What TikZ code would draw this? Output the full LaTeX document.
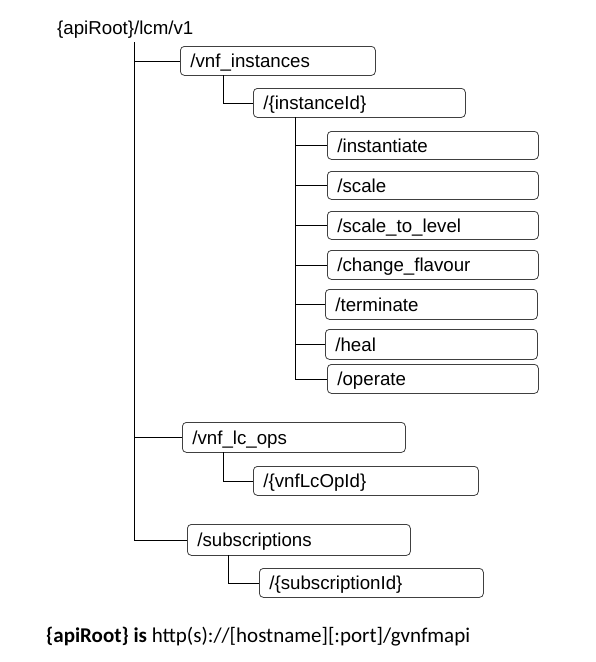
\documentclass[tikz,border=0pt]{standalone}
\usepackage{fontspec}
\setmainfont{Liberation Sans}
\newfontfamily\calfont{Carlito}
\begin{document}
\begin{tikzpicture}[x=1pt,y=-1pt,
  bx/.style={draw=black!75, line width=0.8pt, rounded corners=4pt, inner xsep=10pt, inner ysep=0pt, align=left, anchor=north west, text height=14pt, text depth=0pt, font=\fontsize{18.7}{22}\selectfont},
  ln/.style={draw=black, line width=0.8pt}]
\useasboundingbox[fill=white] (0,0) rectangle (596,662);
\newcommand\rbox[6]{%
  \pgfmathsetmacro\bw{#4-#2-20}\pgfmathsetmacro\bh{#5-#3}%
  \node[bx, text width=\bw pt, minimum height=\bh pt] (#1) at (#2,#3) {#6};}
\node[anchor=west, inner sep=0pt, font=\fontsize{18.7}{22}\selectfont] (root) at (57,29.5) {\{apiRoot\}/lcm/v1};
\rbox{vi}{180}{46}{375}{75}{/vnf\_instances}
\rbox{iid}{253}{88}{465}{117}{/\{instanceId\}}
\rbox{inst}{327}{131}{538}{159}{/instantiate}
\rbox{scale}{327}{171}{538}{199}{/scale}
\rbox{stl}{327}{211}{538}{239}{/scale\_to\_level}
\rbox{cf}{327}{250}{538}{279}{/change\_flavour}
\rbox{term}{325}{289}{537}{319}{/terminate}
\rbox{heal}{325}{329}{537}{359}{/heal}
\rbox{op}{327}{364}{538}{393}{/operate}
\rbox{lc}{182}{422}{405}{452}{/vnf\_lc\_ops}
\rbox{lcid}{253}{466}{478}{495}{/\{vnfLcOpId\}}
\rbox{sub}{187}{524}{410}{555}{/subscriptions}
\rbox{subid}{259}{568}{483}{597}{/\{subscriptionId\}}
\coordinate (t0) at (134,42);
\draw[ln] (t0) |- (sub.west);
\draw[ln] (t0 |- vi.west) -- (vi.west);
\draw[ln] (t0 |- lc.west) -- (lc.west);
\coordinate (a1) at (223,75);
\draw[ln] (a1) |- (iid.west);
\coordinate (a2) at (295,117);
\draw[ln] (a2) |- (op.west);
\foreach \n in {inst,scale,stl,cf,term,heal}{\draw[ln] (a2 |- \n.west) -- (\n.west);}
\coordinate (a3) at (223,452);
\draw[ln] (a3) |- (lcid.west);
\coordinate (a4) at (228,555);
\draw[ln] (a4) |- (subid.west);
\node[anchor=west, inner sep=0pt, font=\calfont\fontsize{21}{24}\selectfont] (note) at (46,637) {\textbf{\{apiRoot\} is} http(s)://[hostname][:port]/gvnfmapi};
\end{tikzpicture}
\end{document}
